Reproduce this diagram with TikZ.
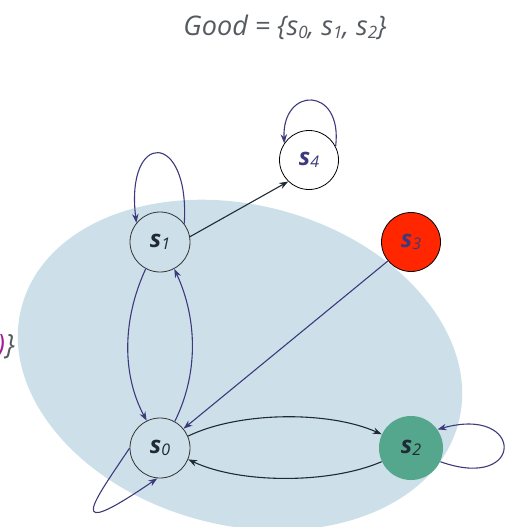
\documentclass[tikz,border=0pt]{standalone}
\usepackage{fontspec}
\setmainfont{Open Sans}
\usetikzlibrary{arrows.meta}
\definecolor{ellfill}{HTML}{CDE0EA}
\definecolor{greennode}{HTML}{54A68C}
\definecolor{rednode}{HTML}{FF2600}
\definecolor{purpleedge}{HTML}{3D3A7C}
\definecolor{darkedge}{HTML}{1F2A36}
\definecolor{titlegrey}{HTML}{555A60}
\definecolor{labpurple}{HTML}{A0209A}
\newcommand{\stlab}[1]{{\fontsize{24}{24}\selectfont\bfseries\itshape s}\kern0.3pt\raisebox{-2pt}{\fontsize{16}{16}\selectfont\itshape #1}}
\newcommand{\tsub}[1]{\raisebox{-3pt}{\fontsize{17}{17}\selectfont #1}}
\begin{document}
\begin{tikzpicture}[x=1pt,y=-1pt,
  state/.style={circle,draw=black!80,line width=0.8pt,minimum size=60pt,inner sep=0pt,text=darkedge},
  pedge/.style={draw=purpleedge,line width=1.1pt,-{Stealth[length=9pt,width=6.5pt]}},
  dedge/.style={draw=darkedge,line width=1.1pt,-{Stealth[length=9pt,width=6.5pt]}}]
\useasboundingbox (0,0) rectangle (506,527);
\clip (0,0) rectangle (506,527);
\fill[ellfill,rotate around={-15:(240,365)}] (240,365) ellipse [x radius=226pt, y radius=160pt];
\node[text=titlegrey,font=\fontsize{27}{27}\selectfont\itshape,anchor=base] (title) at (285,36) {Good = \{s\tsub{0}, s\tsub{1}, s\tsub{2}\}};
\node[text=titlegrey,font=\fontsize{28}{28}\selectfont\itshape,anchor=base east,inner sep=0pt] (frag) at (15,354) {\textcolor{labpurple}{)}\}};
\node[state] (s1) at (160,242) {\stlab{1}};
\node[state] (s0) at (160,448) {\stlab{0}};
\node[state,fill=greennode,draw=none,minimum size=64pt] (s2) at (411,448) {\stlab{2}};
\node[state,fill=rednode,draw=black,text=purpleedge,minimum size=59pt] (s3) at (411,242) {\stlab{3}};
\node[state,fill=white,draw=black,text=purpleedge,minimum size=59pt] (s4) at (309,160) {\stlab{4}};
% self loops
\draw[pedge] (s1.37) .. controls (190,130) and (125,130) .. (s1.141);
\draw[pedge] (s4.27) .. controls (343,86) and (282,86) .. (s4.146);
\draw[pedge] (s0.180) .. controls (95,500) and (60,545) .. (s0.265);
\draw[pedge] (s2.-25) .. controls (525,492) and (525,405) .. (s2.35);
% other edges
\draw[dedge] (s1.10) -- (s4.226);
\draw[pedge] (s1.242) .. controls (122,320) and (122,375) .. (s0.116);
\draw[pedge] (s0.61) .. controls (198,375) and (198,320) .. (s1.298);
\draw[pedge] (s3) -- (s0);
\draw[dedge] (s0.23) .. controls (240,411) and (330,411) .. (s2.155);
\draw[dedge] (s2.205) .. controls (330,484) and (240,484) .. (s0.338);
\end{tikzpicture}
\end{document}
